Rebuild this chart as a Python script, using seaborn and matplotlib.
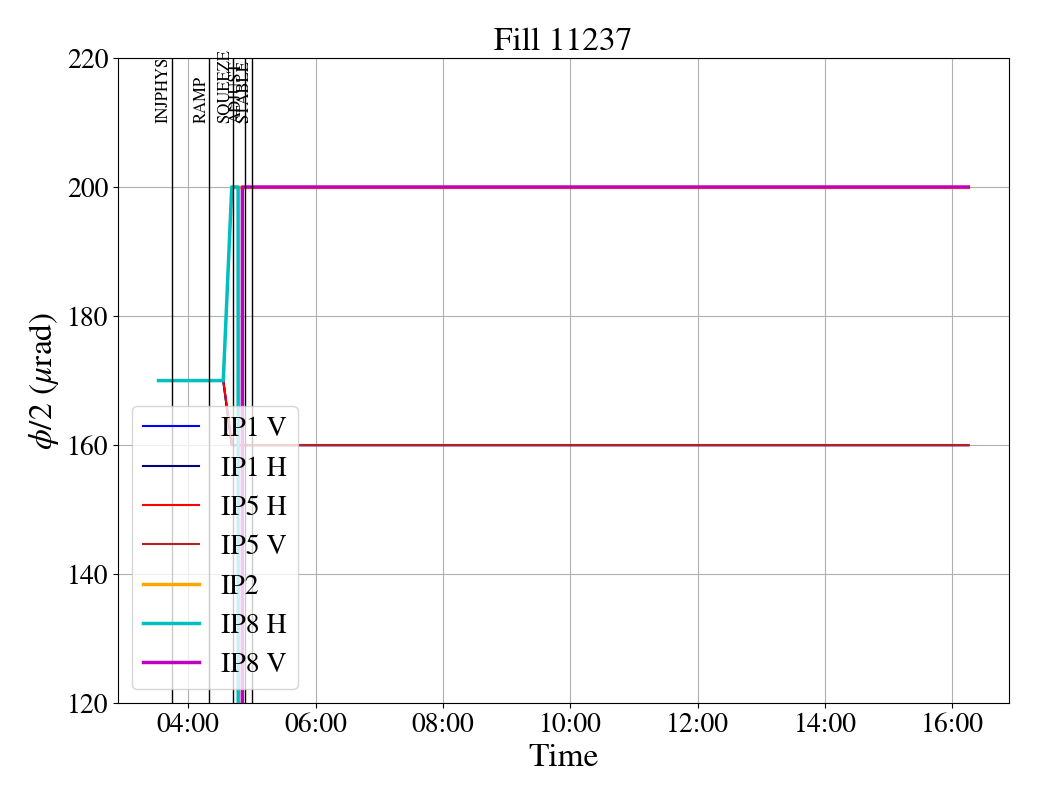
import matplotlib
matplotlib.use("Agg")
import matplotlib.pyplot as plt
import matplotlib.dates as mdates
import seaborn as sns
import pandas as pd

plt.rcParams['font.family'] = ['STIXGeneral', 'DejaVu Serif']
plt.rcParams['mathtext.fontset'] = 'stix'

DAY = "2025-01-01 "

title = "Fill 11237"

# series: times and values
ip1v_t = ["03:32:00", "04:33:00", "04:41:00", "16:15:00"]
ip1v_y = [170, 170, 160, 160]
ip1h_t = ["03:32:00", "04:33:00", "04:41:00", "16:15:00"]
ip1h_y = [170, 170, 160, 160]
ip5h_t = ["03:32:00", "04:33:00", "04:41:30", "16:15:00"]
ip5h_y = [170, 170, 160, 160]
ip5v_t = ["04:41:30", "16:15:00"]
ip5v_y = [160, 160]
ip2_t = ["04:41:00", "16:15:00"]
ip2_y = [200, 200]
ip8h_t = ["03:32:00", "04:33:00", "04:41:00", "04:47:00", "04:47:10", "16:15:00"]
ip8h_y = [170, 170, 200, 200, 0, 0]
ip8v_t = ["03:32:00", "04:50:50", "04:51:00", "16:15:00"]
ip8v_y = [0, 0, 200, 200]

series_labels = ["IP1 V", "IP1 H", "IP5 H", "IP5 V", "IP2", "IP8 H", "IP8 V"]
series_times = [ip1v_t, ip1h_t, ip5h_t, ip5v_t, ip2_t, ip8h_t, ip8v_t]
series_values = [ip1v_y, ip1h_y, ip5h_y, ip5v_y, ip2_y, ip8h_y, ip8v_y]
series_colors = ["blue", "navy", "red", "firebrick", "orange", "c", "m"]
series_widths = [1.5, 1.5, 1.5, 1.5, 2.5, 2.5, 2.5]

mode_names = ["INJPHYS", "RAMP", "SQUEEZE", "ADJUST", "STABLE"]
mode_times = ["03:44:30", "04:20:00", "04:42:00", "04:53:30", "05:00:30"]

fig = plt.figure(figsize=(10.4, 8), dpi=100)
ax = fig.add_axes([0.1135, 0.121, 0.8565, 0.8065])

for lab, t, v, c, lw in zip(series_labels, series_times, series_values,
                             series_colors, series_widths):
    df = pd.DataFrame({"time": pd.to_datetime([DAY + s for s in t]), "val": v})
    sns.lineplot(data=df, x="time", y="val", ax=ax, color=c, linewidth=lw,
                 label=lab, estimator=None, sort=False)

for name, t in zip(mode_names, mode_times):
    tt = pd.to_datetime(DAY + t)
    ax.axvline(tt, color="black", linewidth=1)
    ax.text(tt, 210, name, rotation=90, ha="right", va="bottom", fontsize=12)

ax.set_ylim(120, 220)
ax.xaxis.set_major_locator(mdates.HourLocator(byhour=range(0, 24, 2)))
ax.xaxis.set_major_formatter(mdates.DateFormatter("%H:%M"))
ax.tick_params(labelsize=20)
ax.grid(True)
ax.set_xlabel("Time", fontsize=24)
ax.set_ylabel(r"$\phi/2$ ($\mu$rad)", fontsize=24)
ax.set_title(title, fontsize=24)
ax.legend(loc="lower left", fontsize=20)

fig.savefig("out.png", dpi=100)
